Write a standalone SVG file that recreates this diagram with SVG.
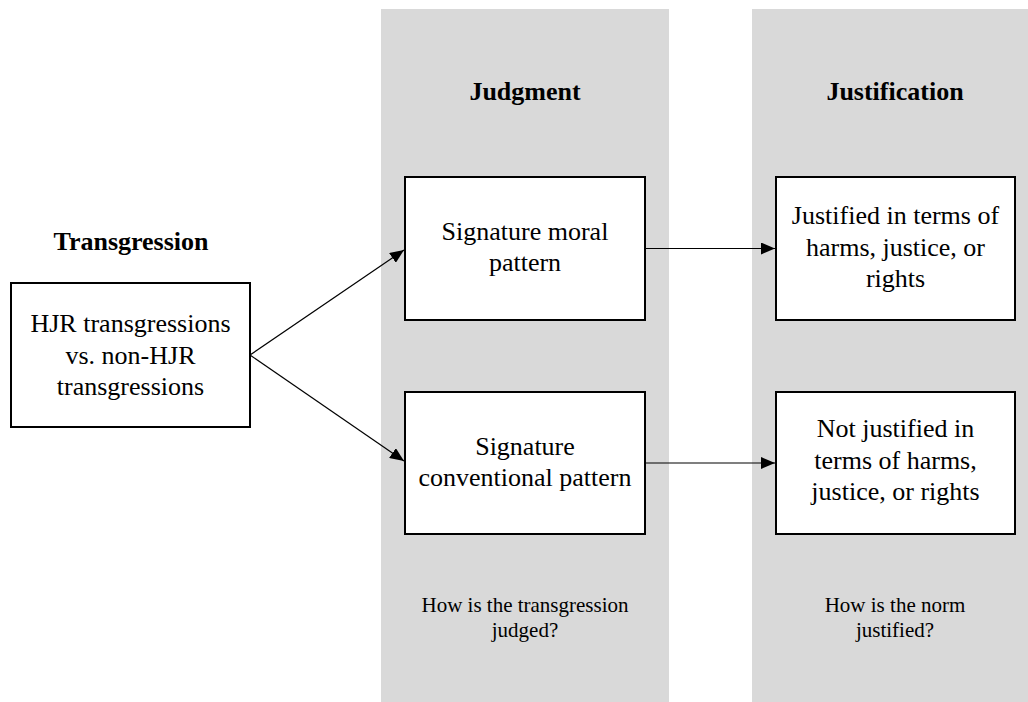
<svg xmlns="http://www.w3.org/2000/svg" width="1028" height="702" viewBox="0 0 1028 702">
<style>
.panel{fill:#d9d9d9;stroke:none}
.box{fill:#fff;stroke:#000;stroke-width:2}
.t{font-family:"Liberation Serif","Times New Roman",serif;font-size:26px;fill:#000;text-anchor:middle}
.h{font-family:"Liberation Serif","Times New Roman",serif;font-size:26px;font-weight:bold;fill:#000;text-anchor:middle}
.c{font-family:"Liberation Serif","Times New Roman",serif;font-size:21px;fill:#000;text-anchor:middle}
.conn{stroke:#000;stroke-width:1.2;fill:none;marker-end:url(#arr)}
</style>
<defs>
<marker id="arr" markerWidth="14" markerHeight="12" refX="14" refY="6" orient="auto" markerUnits="userSpaceOnUse">
<path d="M0,0 L14,6 L0,12 Z" fill="#000"/>
</marker>
</defs>
<rect width="1028" height="702" fill="#fff"/>
<g id="panel-judgment">
<rect class="panel" x="381" y="9" width="288" height="693"/>
<text class="h" x="525" y="100">Judgment</text>
<text class="c" x="525" y="612">How is the transgression</text>
<text class="c" x="525" y="637">judged?</text>
</g>
<g id="panel-justification">
<rect class="panel" x="752" y="9" width="276" height="693"/>
<text class="h" x="895" y="100">Justification</text>
<text class="c" x="895" y="612">How is the norm</text>
<text class="c" x="895" y="637">justified?</text>
</g>
<g id="transgression">
<text class="h" x="131" y="250">Transgression</text>
<rect class="box" x="11" y="283" width="239" height="144"/>
<text class="t" x="130.5" y="332">HJR transgressions</text>
<text class="t" x="130.5" y="364">vs. non-HJR</text>
<text class="t" x="130.5" y="395">transgressions</text>
</g>
<g id="moral">
<rect class="box" x="405" y="177" width="240" height="143"/>
<text class="t" x="525" y="240">Signature moral</text>
<text class="t" x="525" y="271">pattern</text>
</g>
<g id="conventional">
<rect class="box" x="405" y="392" width="240" height="142"/>
<text class="t" x="525" y="455">Signature</text>
<text class="t" x="525" y="486">conventional pattern</text>
</g>
<g id="justified">
<rect class="box" x="776" y="177" width="239" height="143"/>
<text class="t" x="895.5" y="224">Justified in terms of</text>
<text class="t" x="895.5" y="256">harms, justice, or</text>
<text class="t" x="895.5" y="287">rights</text>
</g>
<g id="not-justified">
<rect class="box" x="776" y="392" width="239" height="142"/>
<text class="t" x="895.5" y="437">Not justified in</text>
<text class="t" x="895.5" y="469">terms of harms,</text>
<text class="t" x="895.5" y="500">justice, or rights</text>
</g>
<g id="connectors">
<line class="conn" x1="250" y1="355" x2="404" y2="250"/>
<line class="conn" x1="250" y1="355" x2="404" y2="461"/>
<line class="conn" x1="645" y1="248.5" x2="775" y2="248.5"/>
<line class="conn" x1="645" y1="463" x2="775" y2="463"/>
</g>
</svg>
